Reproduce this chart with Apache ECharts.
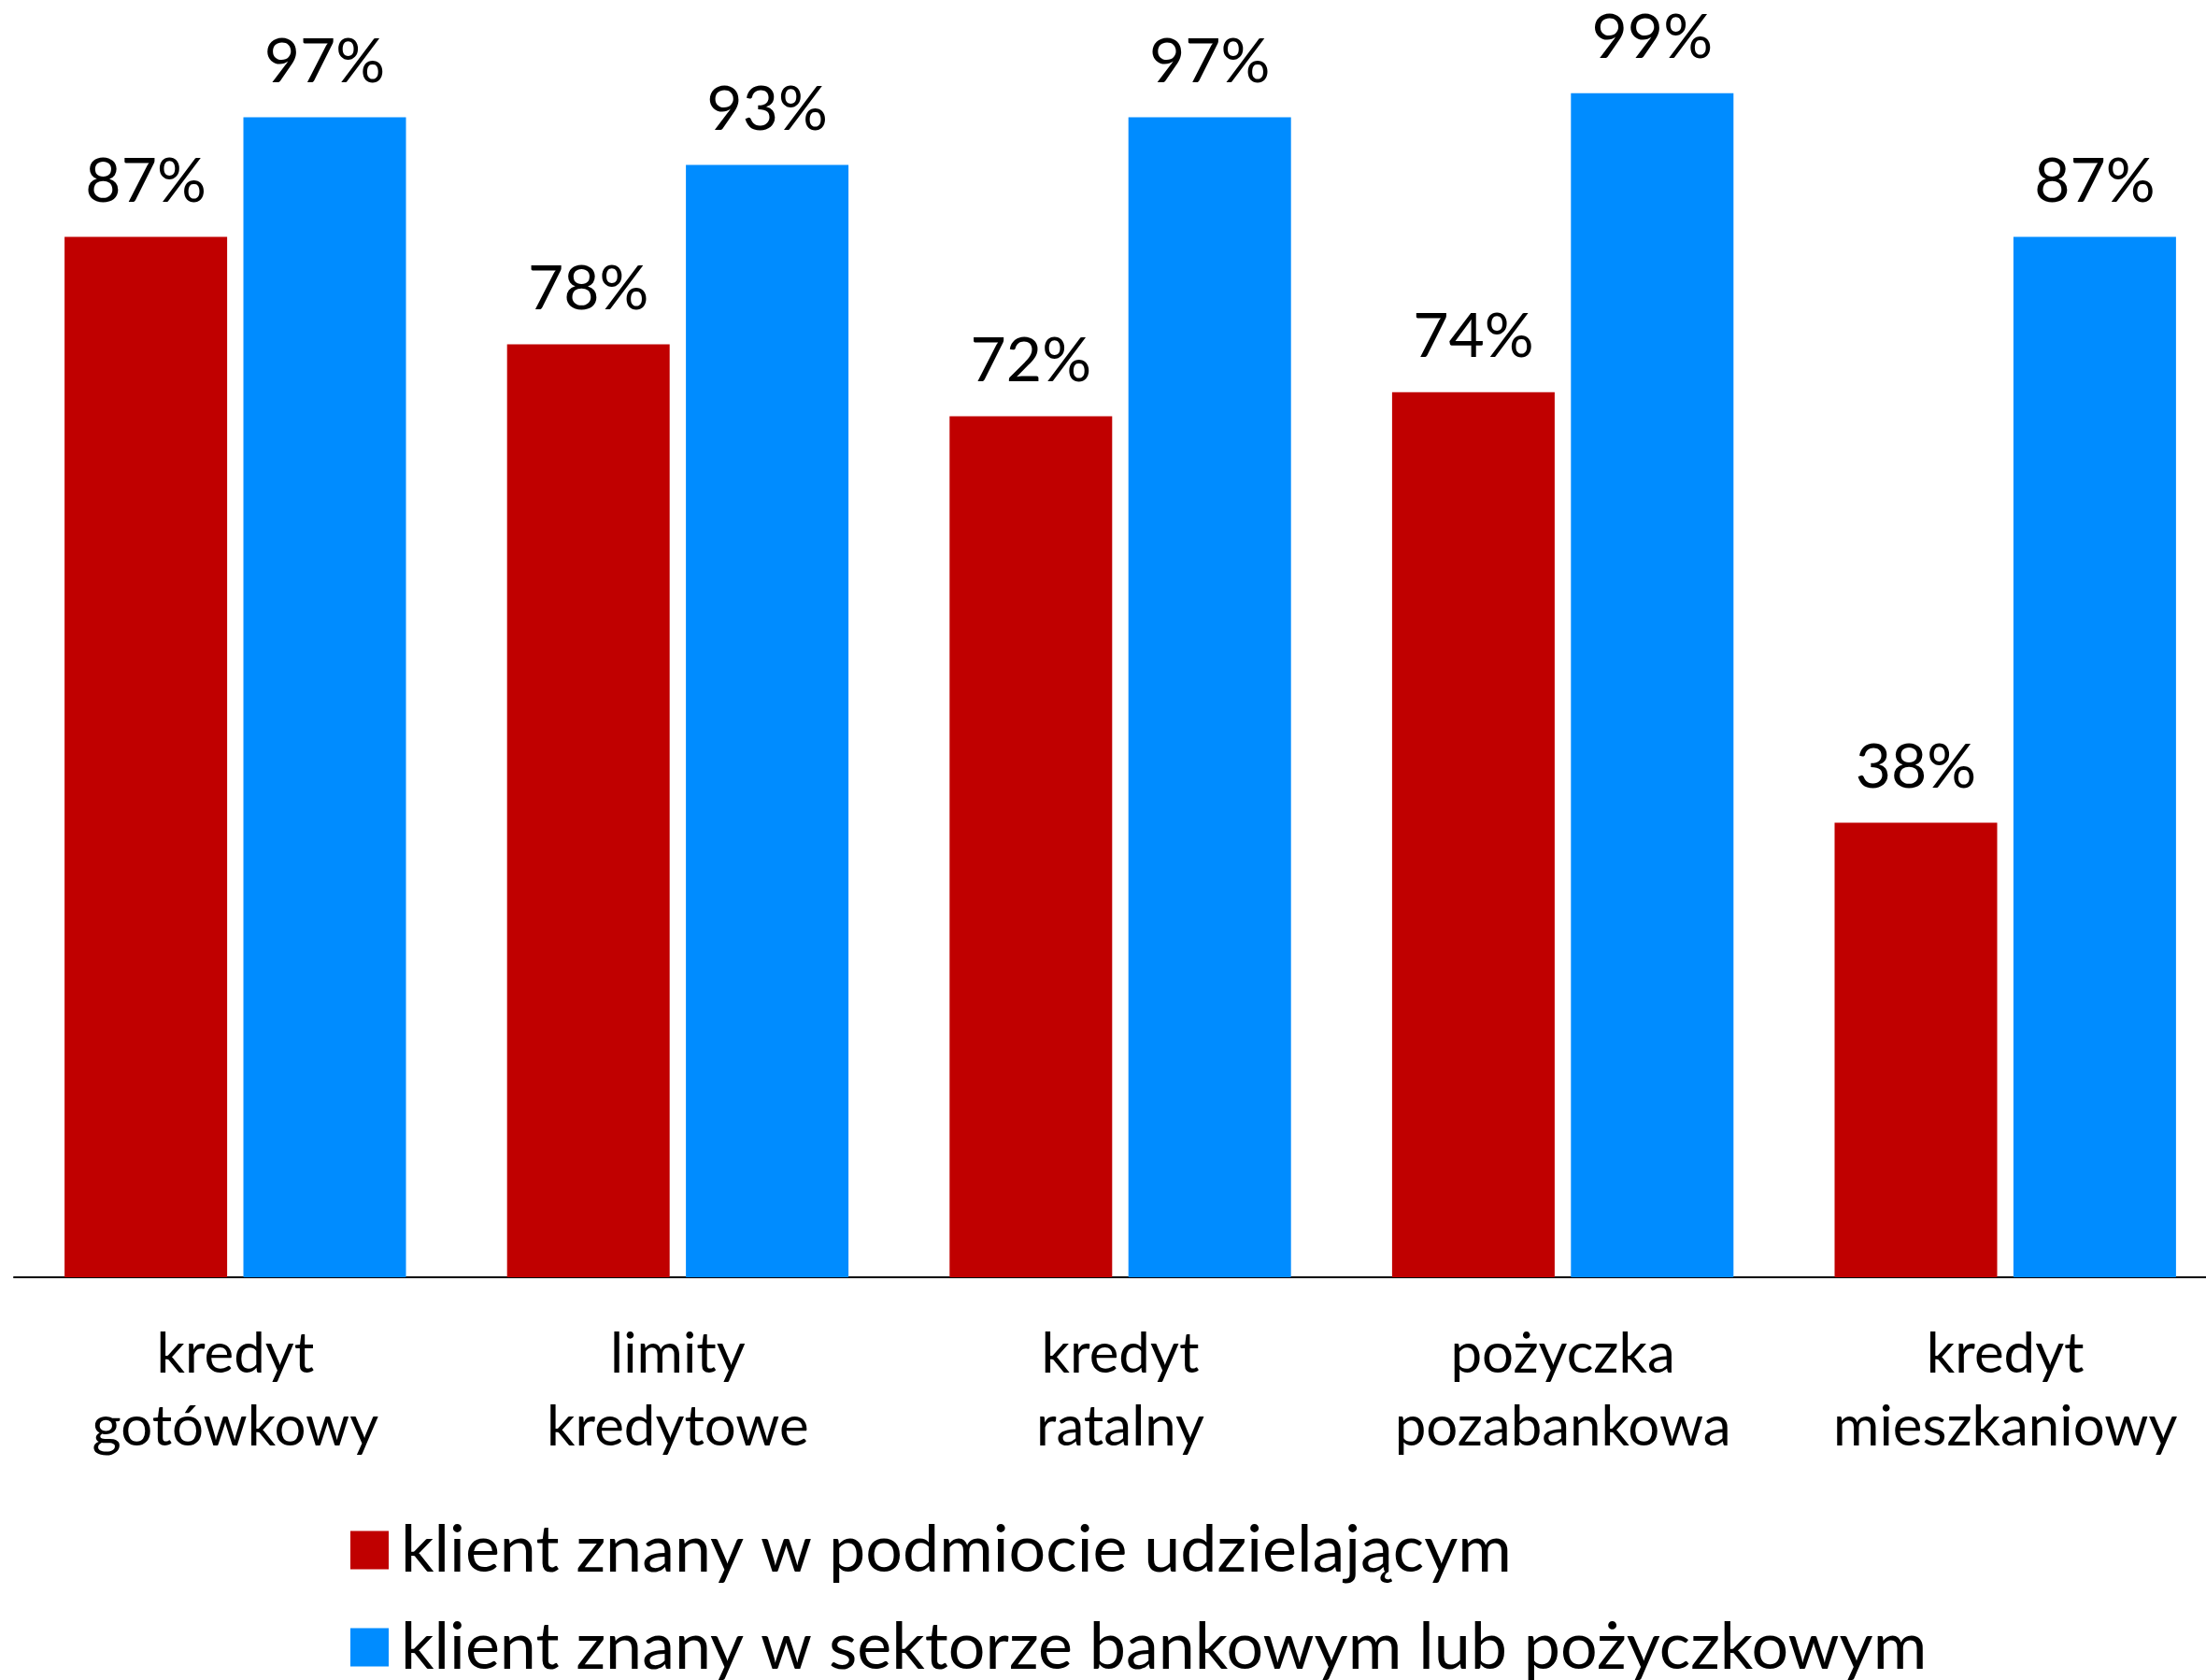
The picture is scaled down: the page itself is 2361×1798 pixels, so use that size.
<!DOCTYPE html>
<html>
<head>
<meta charset="utf-8">
<title>Klient znany</title>
<script src="https://cdn.jsdelivr.net/npm/echarts@6/dist/echarts.min.js"></script>
<style>
    html, body { margin: 0; padding: 0; background: #fff; }
    #chart { width: 2361px; height: 1798px; }
</style>
</head>
<body>
<div id="chart"></div>
<script>
// produkty
var categories = ['kredyt\ngotówkowy', 'limity\nkredytowe', 'kredyt\nratalny', 'pożyczka\npozabankowa', 'kredyt\nmieszkaniowy'];
// % klientów
var znanyWPodmiocie = [87, 78, 72, 74, 38];
var znanyWSektorze = [97, 93, 97, 99, 87];
var seriesNames = ['klient znany w podmiocie udzielającym', 'klient znany w sektorze bankowym lub pożyczkowym'];

var fontName = 'Lato';

function legendRow(name, top) {
    return {
        orient: 'vertical',
        left: 370,
        top: top,
        itemWidth: 41,
        itemHeight: 41,
        icon: 'rect',
        textStyle: {
            fontFamily: fontName,
            fontSize: 70,
            lineHeight: 70,
            color: '#000',
            padding: [0, 0, 0, 8]
        },
        data: [name]
    };
}

function drawChart() {
    var chart = echarts.init(document.getElementById('chart'));

    var labelStyle = {
        show: true,
        position: 'top',
        distance: 26,
        formatter: '{c}%',
        color: '#000',
        fontFamily: fontName,
        fontSize: 66,
        lineHeight: 66
    };

    var option = {
        animation: false,
        color: ['#C00000', '#008CFF'],
        grid: {
            left: 15,
            top: 87,
            width: 2368,
            bottom: 431,
            containLabel: false,
            outerBoundsMode: 'none'
        },
        legend: [
            legendRow(seriesNames[0], 1619),
            legendRow(seriesNames[1], 1723)
        ],
        xAxis: {
            type: 'category',
            data: categories,
            axisLine: { lineStyle: { color: '#000', width: 2 } },
            axisTick: { show: false },
            axisLabel: {
                interval: 0,
                color: '#000',
                fontFamily: fontName,
                fontSize: 60,
                lineHeight: 78,
                margin: 44
            }
        },
        yAxis: {
            type: 'value',
            min: 0,
            max: 100,
            show: false,
            splitLine: { show: false }
        },
        series: [
            {
                name: seriesNames[0],
                type: 'bar',
                data: znanyWPodmiocie,
                barWidth: 174,
                barGap: '10%',
                label: labelStyle
            },
            {
                name: seriesNames[1],
                type: 'bar',
                data: znanyWSektorze,
                barWidth: 174,
                barGap: '10%',
                label: labelStyle
            }
        ]
    };

    chart.setOption(option);
}

drawChart();
</script>
</body>
</html>
